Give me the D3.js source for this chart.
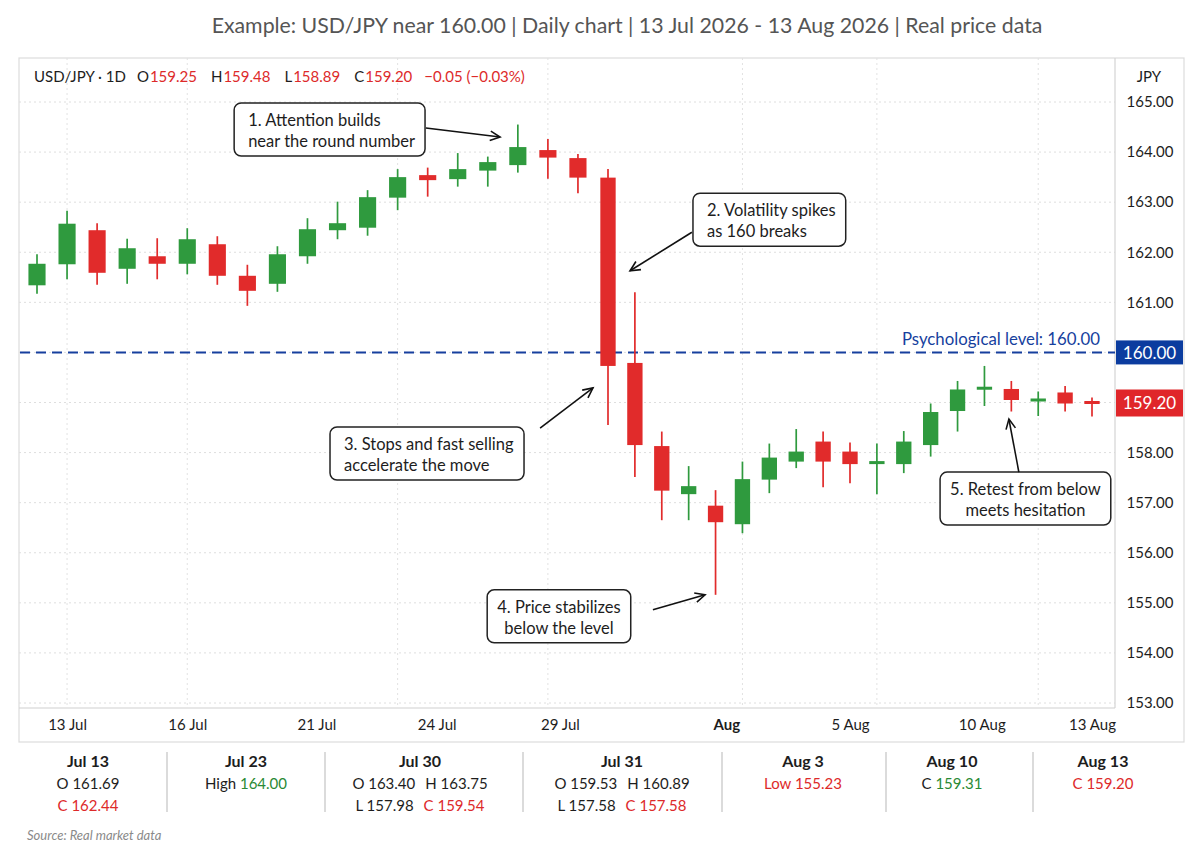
<!DOCTYPE html>
<html><head><meta charset="utf-8">
<script src="https://cdn.jsdelivr.net/npm/d3@7"></script>
<style>
body{margin:0;background:#fff;}
svg{display:block;font-family:Lato,"Open Sans",sans-serif;}
</style>
</head><body>
<svg id="c" width="1195" height="850"></svg>
<script>
// ---------------- DATA ----------------
const subtitle = "Example: USD/JPY near 160.00 | Daily chart | 13 Jul 2026 - 13 Aug 2026 | Real price data";
const opens  = [161.34,161.76,162.44,161.67,161.92,161.77,162.16,161.53,161.37,161.92,162.44,162.49,163.09,163.54,163.46,163.63,163.74,164.04,163.88,163.49,159.79,158.13,157.17,156.94,156.57,157.46,157.82,158.22,158.02,157.78,157.77,158.15,158.83,159.27,159.27,159.03,159.20,159.01];
const highs  = [161.96,162.83,162.58,162.27,162.28,162.48,162.32,161.75,162.12,162.68,163.01,163.24,163.66,163.69,163.98,163.91,164.55,164.26,163.96,163.66,161.20,158.42,157.73,157.25,157.82,158.18,158.47,158.42,158.20,158.18,158.43,158.98,159.43,159.73,159.43,159.22,159.33,159.10];
const lows   = [161.17,161.46,161.35,161.37,161.46,161.56,161.35,160.93,161.21,161.77,162.26,162.33,162.84,163.11,163.31,163.31,163.59,163.47,163.18,158.55,157.51,156.65,156.65,155.16,156.39,157.19,157.69,157.31,157.39,157.17,157.59,157.92,158.42,158.93,158.82,158.73,158.82,158.72];
const closes = [161.77,162.57,161.59,162.08,161.77,162.26,161.53,161.23,161.96,162.46,162.58,163.10,163.50,163.44,163.66,163.80,164.10,163.89,163.49,159.73,158.15,157.24,157.33,156.61,157.47,157.90,158.02,157.82,157.77,157.82,158.22,158.81,159.26,159.30,159.05,159.07,158.98,158.99];

const xTickLabels = ["13 Jul","16 Jul","21 Jul","24 Jul","29 Jul","Aug","5 Aug","10 Aug","13 Aug"];
const xTickAt     = [1, 5, 9.3, 13.3, 17.4, 23.4, 28, 32.9, 37];
const xTickBold   = ["Aug"];
const xGridAt     = [1, 5, 12, 17, 24, 29, 35];
const yGridValues = [153,154,155,156,157,158,159,160,161,162,163,164,165];
const yTickValues = [153,154,155,156,157,158,161,162,163,164,165];
const psychLevel = 160.00;
const psychLabel = "Psychological level: 160.00";
const lastPriceText = "159.20";
const currencyLabel = "JPY";

const headerParts = [
  ["USD/JPY · 1D","k"],["O","k"],["159.25","r"],["H","k"],["159.48","r"],
  ["L","k"],["158.89","r"],["C","k"],["159.20","r"],["−0.05 (−0.03%)","r"]
];

// annotations in data space: box top-left (index, price), arrow from -> to
const annotations = [
  {lines:["1. Attention builds","near the round number"], align:"start", bx:6.56, by:164.98, a:[12.94,164.48,15.41,164.30]},
  {lines:["2. Volatility spikes","as 160 breaks"], align:"start", bx:22.16, by:163.18, a:[22.12,162.40,19.82,161.63]},
  {lines:["3. Stops and fast selling","accelerate the move"], align:"start", bx:9.75, by:158.51, a:[16.74,158.49,18.50,159.29]},
  {lines:["4. Price stabilizes","below the level"], align:"middle", bx:14.98, by:155.26, a:[20.67,154.86,22.61,155.16]},
  {lines:["5. Retest from below","meets hesitation"], align:"middle", bx:31.35, by:157.61, a:[34.28,157.61,33.91,158.67]}
];

const summaryDates = ["Jul 13","Jul 23","Jul 30","Jul 31","Aug 3","Aug 10","Aug 13"];
const summaryRows = [
  [[["O 161.69","k"]],[["C 162.44","r"]]],
  [[["High ","k"],["164.00","g"]]],
  [[["O 163.40","k"],["H 163.75","k"]],[["L 157.98","k"],["C 159.54","r"]]],
  [[["O 159.53","k"],["H 160.89","k"]],[["L 157.58","k"],["C 157.58","r"]]],
  [[["Low 155.23","r"]]],
  [[["C ","k"],["159.31","g"]]],
  [[["C 159.20","r"]]]
];
const sourceText = "Source: Real market data";

// ---------------- STYLE / LAYOUT ----------------
const GREEN = "#2f9a3e", RED = "#e12b2b", BLUE = "#163f9e", INK = "#1d1d1d";
const txtColor = {k:INK, r:"#dd2a2a", g:"#2a8a35"};
const frame = {l:19, t:58, r:1184, b:742};
const plotR = 1115, plotB = 708;

const svg = d3.select("#c");

// scales
const x = d3.scaleLinear().domain([0, 19, 37]).range([37, 608, 1092]);
const y = d3.scaleLinear().domain([153, 165]).range([703, 102]);
const idx = d3.range(opens.length);
const spacing = i => i < 19 ? (x(19)-x(0))/19 : (x(37)-x(19))/18;

// subtitle
svg.append("text").attr("x", 627).attr("y", 33).attr("text-anchor","middle")
  .attr("font-size", 21.3).attr("fill", "#555").text(subtitle);

// frame
svg.append("rect").attr("x", frame.l).attr("y", frame.t)
  .attr("width", frame.r-frame.l).attr("height", frame.b-frame.t)
  .attr("fill","#fff").attr("stroke","#dcdcdc").attr("stroke-width",1.2);

// grids
svg.append("g").selectAll("line").data(yGridValues).join("line")
  .attr("x1", frame.l).attr("x2", plotR).attr("y1", d=>y(d)).attr("y2", d=>y(d))
  .attr("stroke","#dedede").attr("stroke-width",1).attr("stroke-dasharray","2,3");
svg.append("g").selectAll("line").data(xGridAt).join("line")
  .attr("x1", d=>x(d)).attr("x2", d=>x(d)).attr("y1", frame.t).attr("y2", plotB)
  .attr("stroke","#e2e2e2").attr("stroke-width",1).attr("stroke-dasharray","2,3");

// separators
svg.append("line").attr("x1", plotR).attr("x2", plotR).attr("y1", frame.t).attr("y2", plotB)
  .attr("stroke","#d4d4d4").attr("stroke-width",1.2);
svg.append("line").attr("x1", frame.l).attr("x2", plotR).attr("y1", plotB).attr("y2", plotB)
  .attr("stroke","#cfcfcf").attr("stroke-width",1.2);

// header
const ht = svg.append("text").attr("x", 34).attr("y", 82).attr("font-size", 15);
headerParts.forEach((p,i)=>{
  const dx = i===0 ? 0 : (p[0].length===1 ? (i===1 ? 11 : 14) : (i===headerParts.length-1 ? 12 : 1));
  ht.append("tspan").attr("dx", dx).attr("fill", txtColor[p[1]]).text(p[0]);
});

// psychological level line
svg.append("line").attr("x1", frame.l+1).attr("x2", plotR).attr("y1", y(psychLevel)).attr("y2", y(psychLevel))
  .attr("stroke", BLUE).attr("stroke-width", 2).attr("stroke-dasharray","10,6");
svg.append("text").attr("x", 1100).attr("y", y(psychLevel)-7).attr("text-anchor","end")
  .attr("font-size", 16.8).attr("fill", BLUE).text(psychLabel);

// candles
const cg = svg.append("g");
cg.selectAll("line").data(idx).join("line")
  .attr("x1", i=>x(i)).attr("x2", i=>x(i))
  .attr("y1", i=>y(highs[i])).attr("y2", i=>y(lows[i]))
  .attr("stroke", i=>closes[i]>=opens[i]?GREEN:RED).attr("stroke-width",1.7);
cg.selectAll("rect").data(idx).join("rect")
  .attr("x", i=>x(i)-spacing(i)*0.285).attr("width", i=>spacing(i)*0.57)
  .attr("y", i=>{const t=y(Math.max(opens[i],closes[i])), b=y(Math.min(opens[i],closes[i])); return b-t<3 ? (t+b)/2-1.5 : t;})
  .attr("height", i=>Math.max(3, Math.abs(y(opens[i])-y(closes[i]))))
  .attr("fill", i=>closes[i]>=opens[i]?GREEN:RED);

// y axis
const yAxis = svg.append("g").attr("transform", `translate(1150,0)`)
  .call(d3.axisRight(y).tickValues(yTickValues).tickSize(0).tickFormat(d3.format(".2f")));
yAxis.select(".domain").remove();
yAxis.selectAll("text").attr("x",0).attr("text-anchor","middle").attr("font-size",15)
  .attr("font-family","Lato, sans-serif").attr("fill", INK);
svg.append("text").attr("x",1149).attr("y",82).attr("text-anchor","middle").attr("font-size",15).attr("fill",INK).text(currencyLabel);

// price boxes
function priceBox(val, txt, fill, h){
  const cy = y(val);
  svg.append("rect").attr("x", plotR+1).attr("y", cy-h/2).attr("width", frame.r-plotR-2).attr("height", h).attr("fill", fill);
  svg.append("text").attr("x",(plotR+frame.r)/2).attr("y", cy).attr("dy","0.36em").attr("text-anchor","middle")
    .attr("font-size",17).attr("fill","#fff").text(txt);
}
priceBox(psychLevel, d3.format(".2f")(psychLevel), "#0b3c9f", 24);
priceBox(closes[closes.length-1], lastPriceText, "#e0262a", 27);

// x axis
const xAxis = svg.append("g").attr("transform", `translate(0,${plotB})`)
  .call(d3.axisBottom(x).tickValues(xTickAt).tickSize(0).tickFormat((d,i)=>xTickLabels[i]));
xAxis.select(".domain").remove();
xAxis.selectAll("text").attr("y", 11).attr("font-size",15).attr("font-family","Lato, sans-serif")
  .attr("fill",INK).attr("font-weight",(d,i)=>xTickBold.includes(xTickLabels[i])?"bold":"normal");

// annotations
const ag = svg.append("g");
annotations.forEach(a=>{
  const left = x(a.bx), top = y(a.by);
  const g = ag.append("g");
  const t = g.append("text").attr("font-size",16.5).attr("fill",INK);
  a.lines.forEach((ln,k)=> t.append("tspan").attr("x",0).attr("y", 23 + k*21).text(ln));
  const bb = t.node().getBBox();
  const pad = 10, w = bb.width + pad*2 + (a.align==="start" ? 4 : 0), h = 53;
  g.insert("rect","text").attr("x",left).attr("y",top).attr("width",w).attr("height",h)
    .attr("rx",7).attr("fill","#fff").attr("stroke","#222").attr("stroke-width",1.5);
  if (a.align==="start") t.selectAll("tspan").attr("x", left+pad+4);
  else t.selectAll("tspan").attr("x", left+w/2).attr("text-anchor","middle");
  t.attr("transform",`translate(0,${top})`);
  const [fx,fy,tx,ty] = a.a;
  const x1=x(fx), y1=y(fy), x2=x(tx), y2=y(ty);
  const ang = Math.atan2(y2-y1, x2-x1), L=11, sp=0.45;
  ag.append("line").attr("x1",x1).attr("y1",y1).attr("x2",x2).attr("y2",y2).attr("stroke","#111").attr("stroke-width",1.6);
  ag.append("path").attr("d",`M${x2-L*Math.cos(ang-sp)},${y2-L*Math.sin(ang-sp)}L${x2},${y2}L${x2-L*Math.cos(ang+sp)},${y2-L*Math.sin(ang+sp)}`)
    .attr("fill","none").attr("stroke","#111").attr("stroke-width",1.6).attr("stroke-linejoin","miter");
});

// summary panel
const summaryCenters = [88, 246, 420, 622, 803, 952, 1103];
const summarySeps = [167, 325, 523, 722, 886, 1033];
svg.append("g").selectAll("line").data(summarySeps).join("line")
  .attr("x1",d=>d).attr("x2",d=>d).attr("y1",752).attr("y2",812).attr("stroke","#c8c8c8").attr("stroke-width",1.3);
summaryDates.forEach((dt,i)=>{
  const cx = summaryCenters[i];
  svg.append("text").attr("x",cx).attr("y",767).attr("text-anchor","middle").attr("font-size",16)
    .attr("font-weight","bold").attr("fill",INK).text(dt);
  summaryRows[i].forEach((row,k)=>{
    const t = svg.append("text").attr("x",cx).attr("y",789+k*22).attr("text-anchor","middle").attr("font-size",15);
    row.forEach((p,j)=> t.append("tspan").attr("dx", j>0 && p[0].length>3 && row[j-1][0].slice(-1)!==" " ? 10 : 0).attr("fill",txtColor[p[1]]).text(p[0]));
  });
});
svg.append("text").attr("x",27).attr("y",840).attr("font-size",13).attr("font-style","italic").attr("fill","#8a8a8a").text(sourceText);
</script>
</body></html>
